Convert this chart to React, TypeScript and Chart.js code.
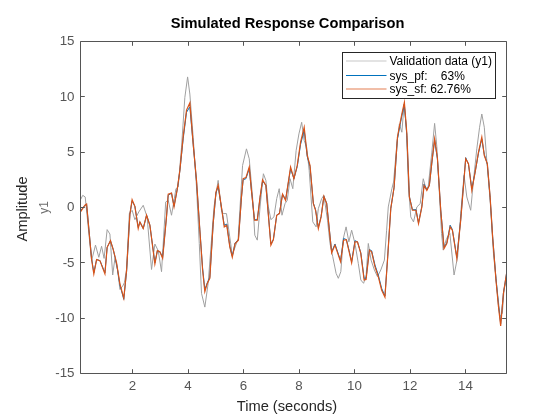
import { useEffect, useRef } from "react";
import { Chart, registerables } from "chart.js";

Chart.register(...registerables);

// ---- Data ----
const valTime = [
  0.13, 0.21, 0.3, 0.53, 0.67, 0.79, 0.89, 0.98, 1.09, 1.19, 1.29, 1.37, 1.47, 1.55, 1.65, 1.71, 1.79, 1.89, 1.99,
  2.09, 2.23, 2.39, 2.53, 2.69, 2.81, 2.93, 3.05, 3.2, 3.29, 3.41, 3.57, 3.65, 3.77, 3.89, 3.99, 4.07, 4.19, 4.31,
  4.41, 4.49, 4.61, 4.73, 4.85, 4.94, 5.09, 5.21, 5.27, 5.39, 5.6, 5.81, 5.97, 6.11, 6.21, 6.33, 6.41, 6.5, 6.6,
  6.72, 6.81, 6.9, 6.99, 7.1, 7.2, 7.29, 7.39, 7.5, 7.58, 7.68, 7.78, 7.9, 8.0, 8.1, 8.19, 8.28, 8.37, 8.5, 8.62,
  8.7, 8.82, 8.9, 9.03, 9.12, 9.22, 9.34, 9.42, 9.51, 9.6, 9.7, 9.8, 9.9, 10.02, 10.14, 10.23, 10.33, 10.42, 10.5,
  10.6, 10.72, 10.83, 10.95, 11.08, 11.16, 11.22, 11.35, 11.41, 11.53, 11.62, 11.71, 11.79, 11.87, 11.95, 12.03,
  12.13, 12.25, 12.37, 12.48, 12.58, 12.66, 12.79, 12.89, 12.97, 13.05, 13.14, 13.2, 13.32, 13.44, 13.59, 13.72,
  13.83, 13.95, 14.05, 14.19, 14.29, 14.41, 14.51, 14.59, 14.68, 14.77, 14.89, 15.01, 15.13, 15.25, 15.33, 15.39,
  15.48,
];
const valAmp = [
  0.7, 1.1, 0.95, -4.8, -3.4, -4.5, -3.5, -4.6, -2.0, -2.4, -6.1, -4.6, -5.7, -7.4, -7.1, -6.8, -5.6, -0.55, -0.25,
  -1.1, -0.4, 0.2, -0.85, -5.6, -3.3, -3.9, -5.8, 0.5, 0.65, -0.7, 1.7, 1.85, 5.45, 9.95, 11.8, 10.25, 6.35, 1.85,
  -3.25, -7.75, -9.0, -6.85, -2.95, 0.05, 2.45, -0.25, -0.55, -0.55, -4.3, -2.8, 3.8, 5.3, 4.4, 0.95, -2.5, -2.95, 0.05,
  3.05, 2.45, 0.05, -1.1, -0.85, 0.8, 1.7, -0.7, 0.35, 0.65, 2.6, 1.7, 5.15, 6.65, 7.7, 6.05, 5.45, 3.35, -1.3, -1.75,
  -0.1, 0.8, 1.1, -1.15, -3.25, -4.45, -5.95, -6.4, -5.8, -2.8, -1.75, -3.1, -2.05, -3.25, -5.05, -6.55, -6.85, -6.2, -3.25,
  -4.75, -5.65, -6.25, -5.65, -4.75, -2.05, 0.05, 1.7, 2.3, 5.75, 7.55, 6.8, 9.35, 7.25, 1.85, -0.85,
  -1.3, 0.05, 0.35, 2.6, 1.7, 1.9, 5.0, 7.6, 5.5, 1.85, -2.35, -3.85, -2.8, -2.35, -6.1, -4.45,
  -0.55, 2.9, 0.95, -0.25, 2.45, 5.3, 7.25, 8.45, 7.25, 4.25, 0.65, -4.15, -7.15, -9.85, -9.55, -7.45,
  -6.5,
];

const sfTime = [
  0.13, 0.29, 0.35, 0.53, 0.61, 0.71, 0.83, 1.01, 1.09, 1.21, 1.31, 1.43, 1.55, 1.69, 1.79, 1.91, 1.99, 2.09, 2.21,
  2.27, 2.39, 2.51, 2.63, 2.81, 2.9, 2.99, 3.09, 3.23, 3.29, 3.41, 3.5, 3.62, 3.71, 3.83, 3.95, 4.07, 4.19, 4.31,
  4.43, 4.53, 4.61, 4.7, 4.79, 4.91, 5.01, 5.09, 5.19, 5.31, 5.4, 5.51, 5.6, 5.7, 5.82, 5.93, 5.99, 6.09, 6.21, 6.29,
  6.4, 6.5, 6.6, 6.69, 6.81, 6.99, 7.08, 7.2, 7.3, 7.41, 7.52, 7.7, 7.82, 7.94, 8.06, 8.19, 8.3, 8.4, 8.52, 8.6, 8.7,
  8.8, 8.9, 9.0, 9.18, 9.3, 9.5, 9.61, 9.71, 9.81, 9.9, 10.02, 10.11, 10.23, 10.35, 10.42, 10.54, 10.62, 10.74, 10.86,
  10.98, 11.1, 11.2, 11.31, 11.43, 11.55, 11.65, 11.71, 11.8, 11.89, 11.98, 12.09, 12.22, 12.31, 12.43, 12.51, 12.61,
  12.7, 12.79, 12.89, 12.99, 13.11, 13.23, 13.33, 13.45, 13.53, 13.69, 13.83, 14.01, 14.11, 14.23, 14.35, 14.47,
  14.59, 14.68, 14.79, 14.89, 14.98, 15.1, 15.19, 15.27, 15.37, 15.48,
];
const sfAmp = [
  -0.4, 0.2, 0.3, -4.7, -6.0, -4.7, -4.8, -6.0, -3.6, -3.0, -3.8, -5.0, -6.9, -8.2, -5.7, -0.6, 0.7, 0.1, -1.9,
  -1.3, -1.9, -0.7, -1.6, -5.1, -3.9, -4.0, -4.6, -0.8, 1.2, 1.3, 0.05, 1.7, 3.35, 6.4, 8.8, 9.45, 5.75, 2.45,
  -2.05, -5.65, -7.6, -6.85, -6.4, -1.45, 1.4, 2.0, 0.35, -1.75, -1.6, -3.55, -4.5, -3.25, -2.95, 0.95, 2.6, 2.7, 3.65, 1.55,
  -1.15, -1.15, 0.95, 2.5, 2.0, -3.4, -2.9, -0.7, -0.55, 1.2, 0.65, 3.65, 2.6, 3.8, 5.9, 7.25, 4.7, 3.8, 0.35, -0.25, -1.9,
  -0.85, 1.0, 0.35, -4.1, -3.4, -4.9, -2.95, -2.9, -4.0, -5.0, -3.1, -3.1, -4.15, -6.55, -6.5, -3.85, -4.0, -5.35, -6.25,
  -7.45, -8.1, -4.45, -0.1, 1.85, 6.35, 7.7, 8.45, 9.5, 6.65, 0.95, -0.25, -0.25, -1.45, 0.05, 2.0, 1.55,
  2.0, 4.1, 6.2, 4.5, -0.25, -3.7, -3.25, -1.75, -2.05, -4.6, -1.15, 4.4, 3.95, 1.55, 3.2, 5.0,
  6.35, 4.7, 3.95, 0.95, -2.65, -6.55, -8.95, -10.7, -7.75, -6.0,
];

const pfTime = sfTime;
const pfAmp = [
  -0.3, 0.2, 0.3, -4.6, -5.9, -4.7, -4.8, -5.9, -3.6, -3.0, -3.8, -5.1, -7.0, -8.3, -5.8, -0.6, 0.6, 0.1, -1.8,
  -1.3, -1.9, -0.7, -1.6, -5.0, -3.9, -4.0, -4.5, -0.8, 1.1, 1.3, 0.1, 1.7, 3.3, 6.2, 8.6, 9.1, 5.7, 2.4,
  -2.0, -5.5, -7.4, -6.8, -6.3, -1.5, 1.3, 1.9, 0.3, -1.6, -1.5, -3.5, -4.4, -3.2, -2.9, 0.9, 2.5, 2.6, 3.5, 1.5,
  -1.1, -1.1, 0.9, 2.4, 2.0, -3.3, -2.9, -0.7, -0.5, 1.2, 0.7, 3.5, 2.6, 3.7, 5.7, 7.0, 4.6, 3.7, 0.4, -0.2, -1.8,
  -0.8, 1.0, 0.4, -4.0, -3.3, -4.8, -2.8, -2.9, -3.9, -4.9, -3.0, -3.1, -4.1, -6.4, -6.4, -3.8, -3.9, -5.2, -6.1,
  -7.3, -8.0, -4.4, -0.1, 1.8, 6.2, 7.5, 8.3, 9.3, 6.5, 1.0, -0.2, -0.2, -1.4, 0.1, 2.1, 1.6,
  2.0, 4.0, 6.1, 4.4, -0.2, -3.6, -3.2, -1.6, -2.0, -4.5, -1.1, 4.5, 3.9, 1.7, 3.2, 4.9,
  6.2, 4.8, 3.9, 0.9, -2.6, -6.4, -8.8, -10.5, -7.7, -6.0,
];

const xTicks = [2, 4, 6, 8, 10, 12, 14];
const yTicks = [-15, -10, -5, 0, 5, 10, 15];
const xMin = 0.13;
const xMax = 15.48;
const yMin = -15;
const yMax = 15;

const titleText = "Simulated Response Comparison";
const xLabel = "Time (seconds)";
const yLabel = "Amplitude";
const channelLabel = "y1";
const legendLabels = ["Validation data (y1)", "sys_pf:    63%", "sys_sf: 62.76%"];

const COLOR_VAL = "#a0a0a0";
const COLOR_PF = "#0072BD";
const COLOR_SF = "#D95319";
const FONT = "'Liberation Sans', Arial, Helvetica, sans-serif";

const toPoints = (t: number[], v: number[]) => t.map((x, i) => ({ x, y: v[i] }));

const framePlugin = {
  id: "matlabFrame",
  afterDatasetsDraw(chart: any) {
    const { ctx, chartArea } = chart;
    const { left, right, top, bottom } = chartArea;
    const xs = chart.scales.x;
    const ys = chart.scales.y;
    const tl = 4.3;
    ctx.save();
    ctx.strokeStyle = "#555555";
    ctx.lineWidth = 1;
    ctx.beginPath();
    ctx.rect(left, top, right - left, bottom - top);
    ctx.stroke();
    ctx.beginPath();
    xTicks.forEach((v) => {
      const px = Math.round(xs.getPixelForValue(v)) + 0.5;
      ctx.moveTo(px, bottom);
      ctx.lineTo(px, bottom - tl);
      ctx.moveTo(px, top);
      ctx.lineTo(px, top + tl);
    });
    yTicks.forEach((v) => {
      const py = Math.round(ys.getPixelForValue(v) - 0.5) + 0.5;
      ctx.moveTo(left, py);
      ctx.lineTo(left + tl, py);
      ctx.moveTo(right, py);
      ctx.lineTo(right - tl, py);
    });
    ctx.stroke();
    ctx.restore();
  },
  afterDraw(chart: any) {
    const { ctx } = chart;
    ctx.save();
    // Title
    ctx.fillStyle = "#000000";
    ctx.font = `bold 14.67px ${FONT}`;
    ctx.textAlign = "center";
    ctx.textBaseline = "alphabetic";
    ctx.fillText(titleText, 287.5, 27.7);
    // X label
    ctx.fillStyle = "#262626";
    ctx.font = `14.67px ${FONT}`;
    ctx.fillText(xLabel, 287, 411);
    // Y label
    ctx.save();
    ctx.translate(26.5, 209);
    ctx.rotate(-Math.PI / 2);
    ctx.fillText(yLabel, 0, 0);
    ctx.restore();
    // Channel label
    ctx.save();
    ctx.fillStyle = "#6e6e6e";
    ctx.font = `12px ${FONT}`;
    ctx.translate(47.5, 207.5);
    ctx.rotate(-Math.PI / 2);
    ctx.fillText(channelLabel, 0, 0);
    ctx.restore();

    // Legend
    const bx = 342.5, by = 52.5, bw = 153, bh = 46;
    ctx.fillStyle = "#ffffff";
    ctx.fillRect(bx, by, bw, bh);
    ctx.strokeStyle = "#262626";
    ctx.lineWidth = 1;
    ctx.strokeRect(bx, by, bw, bh);
    const rows = [
      { y: 61, color: "#b4b4b4", w: 1.2 },
      { y: 75.5, color: COLOR_PF, w: 1 },
      { y: 89, color: COLOR_SF, w: 1.2 },
    ];
    ctx.font = `12px ${FONT}`;
    ctx.textAlign = "left";
    ctx.textBaseline = "middle";
    rows.forEach((r, i) => {
      ctx.strokeStyle = r.color;
      ctx.lineWidth = r.w;
      ctx.globalAlpha = i === 1 ? 1 : 0.75;
      ctx.beginPath();
      ctx.moveTo(346, r.y);
      ctx.lineTo(386.5, r.y);
      ctx.stroke();
      ctx.globalAlpha = 1;
      ctx.fillStyle = "#000000";
      ctx.fillText(legendLabels[i], 389.5, Math.round(r.y) + 1);
    });
    ctx.restore();
  },
};

export default function App() {
  const canvasRef = useRef<HTMLCanvasElement | null>(null);

  useEffect(() => {
    if (!canvasRef.current) return;
    const tickFont = { family: FONT, size: 13.33 };
    const chart = new Chart(canvasRef.current, {
      type: "line",
      data: {
        datasets: [
          {
            label: legendLabels[0],
            data: toPoints(valTime, valAmp),
            borderColor: COLOR_VAL,
            borderWidth: 1,
            pointRadius: 0,
            tension: 0,
            order: 2,
          },
          {
            label: legendLabels[1],
            data: toPoints(pfTime, pfAmp),
            borderColor: COLOR_PF,
            borderWidth: 1,
            pointRadius: 0,
            tension: 0,
            order: 1,
          },
          {
            label: legendLabels[2],
            data: toPoints(sfTime, sfAmp),
            borderColor: COLOR_SF,
            borderWidth: 1.2,
            pointRadius: 0,
            tension: 0,
            order: 0,
          },
        ],
      },
      options: {
        responsive: false,
        animation: false,
        devicePixelRatio: 1,
        layout: { padding: { left: 0, top: 41.5, right: 53.5, bottom: 0 } },
        plugins: {
          legend: { display: false },
          title: { display: false },
          tooltip: { enabled: false },
        },
        scales: {
          x: {
            type: "linear",
            min: xMin,
            max: xMax,
            grid: { display: false, drawTicks: false },
            border: { display: false },
            afterBuildTicks: (s: any) => {
              s.ticks = xTicks.map((value) => ({ value }));
            },
            afterFit: (s: any) => {
              s.height = 46.5;
            },
            ticks: {
              font: tickFont,
              color: "#555555",
              padding: 5,
              maxRotation: 0,
              autoSkip: false,
              callback: (v: any) => String(v),
            },
          },
          y: {
            type: "linear",
            min: yMin,
            max: yMax,
            grid: { display: false, drawTicks: false },
            border: { display: false },
            afterBuildTicks: (s: any) => {
              s.ticks = yTicks.map((value) => ({ value }));
            },
            afterFit: (s: any) => {
              s.width = 80.5;
            },
            ticks: {
              font: tickFont,
              color: "#555555",
              padding: 6,
              autoSkip: false,
              callback: (v: any) => String(v),
            },
          },
        },
      },
      plugins: [framePlugin],
    });
    return () => chart.destroy();
  }, []);

  return (
    <div style={{ position: "absolute", left: 0, top: 0, width: 560, height: 420, background: "#ffffff" }}>
      <canvas ref={canvasRef} width={560} height={420} style={{ width: 560, height: 420 }} />
    </div>
  );
}
